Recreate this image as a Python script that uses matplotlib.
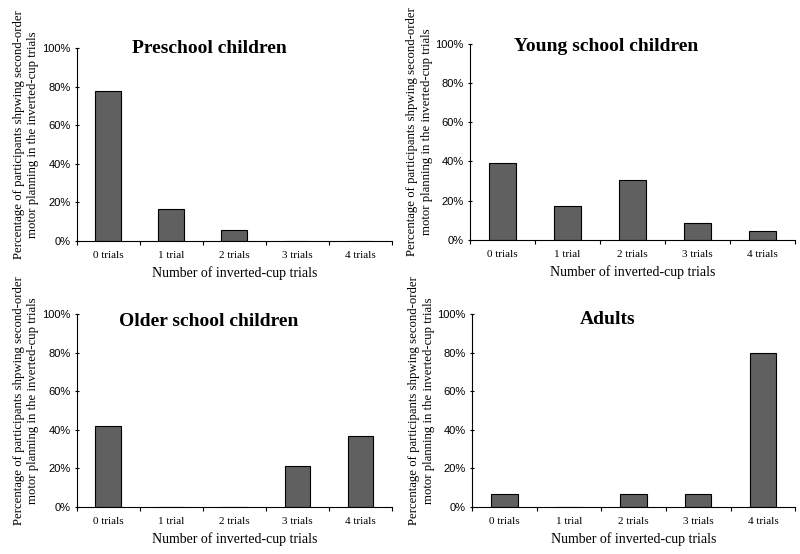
import matplotlib.pyplot as plt
from matplotlib.ticker import PercentFormatter

categories = ["0 trials", "1 trial", "2 trials", "3 trials", "4 trials"]
titles = ["Preschool children", "Young school children",
          "Older school children", "Adults"]
preschool = [77.8, 16.7, 5.6, 0, 0]
young = [39.1, 17.4, 30.4, 8.7, 4.3]
older = [42.1, 0, 0, 21.1, 36.8]
adults = [6.7, 0, 6.7, 6.7, 80.0]
groups = [preschool, young, older, adults]

xlabel = "Number of inverted-cup trials"
ylabel = ("Percentage of participants shpwing second-order\n"
          "motor planning in the inverted-cup trials")

plt.rcParams['font.family'] = ['Liberation Serif', 'DejaVu Serif']

fig = plt.figure(figsize=(8, 5.54), dpi=100)

boxes = [
    [0.096, 0.565, 0.394, 0.348],
    [0.5875, 0.567, 0.406, 0.354],
    [0.096, 0.085, 0.394, 0.348],
    [0.590, 0.085, 0.404, 0.348],
]
title_y = [1.0, 0.985, 0.96, 0.97]

for box, title, vals, ty in zip(boxes, titles, groups, title_y):
    ax = fig.add_axes(box)
    x = range(len(categories))
    ax.bar(x, vals, width=0.41, color='#606060', edgecolor='black',
           linewidth=0.8)
    ax.set_xlim(-0.5, len(categories) - 0.5)
    ax.set_ylim(0, 100)
    ax.set_yticks([0, 20, 40, 60, 80, 100])
    ax.yaxis.set_major_formatter(PercentFormatter(decimals=0))
    ax.set_xticks(list(x))
    ax.set_xticklabels(categories, fontsize=8)
    # Excel-style ticks between categories
    ax.set_xticks([i + 0.5 for i in range(-1, len(categories))], minor=True)
    ax.tick_params(axis='x', which='major', length=0, pad=7)
    ax.tick_params(axis='x', which='minor', length=3, direction='out',
                   width=0.8)
    ax.tick_params(axis='y', length=3, direction='inout', width=0.8,
                   labelsize=8, pad=3)
    for lab in ax.get_yticklabels():
        lab.set_family('Liberation Sans')
    for side in ['top', 'right']:
        ax.spines[side].set_visible(False)
    for side in ['left', 'bottom']:
        ax.spines[side].set_linewidth(0.8)
    ax.set_xlabel(xlabel, fontsize=10, labelpad=5)
    ax.set_ylabel(ylabel, fontsize=9.2, labelpad=2, linespacing=1.3)
    ax.yaxis.label.set_y(0.55)
    ax.text(0.42, ty, title, transform=ax.transAxes, ha='center',
            va='center', fontsize=14, fontweight='bold')

fig.savefig('out.png', dpi=100)
